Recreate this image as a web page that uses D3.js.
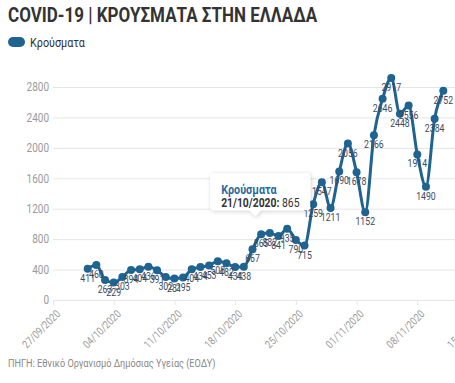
<!doctype html>
<html>
<head>
<meta charset="UTF-8">
<title>COVID-19 | Κρούσματα στην Ελλάδα</title>
<script src="https://d3js.org/d3.v7.min.js"></script>
<style>
    body { margin: 0; background: #fff; }
    svg text { font-family: Roboto, sans-serif; }
</style>
</head>
<body>
<script>
    // daily cases from 01/10/2020, one value per day
    var startDay = "01/10/2020";
    var cases = [411, 460, 263, 229, 303, 394, 404, 436, 391, 302, 281, 295, 404, 434, 453, 508, 482, 434, 438, 667,
        865, 882, 841, 935, 790, 715, 1259, 1547, 1211, 1690, 2056, 1678, 1152, 2166, 2646, 2917, 2448, 2556, 1914, 1490, 2384, 2752];
    var xTickLabels = ["27/09/2020", "04/10/2020", "11/10/2020", "18/10/2020", "25/10/2020", "01/11/2020", "08/11/2020", "15/11/2020"];
    var yTicks = [0, 400, 800, 1200, 1600, 2000, 2400, 2800];
    var tooltipIndex = 20;

    var w = 455, h = 383;
    var parse = d3.timeParse("%d/%m/%Y");
    var fmt = d3.timeFormat("%d/%m/%Y");
    var blue = "#1f6391";

    var data = cases.map(function (v, i) {
        return { date: d3.timeDay.offset(parse(startDay), i), value: v };
    });

    var svg = d3.select("body").append("svg").attr("width", w).attr("height", h);

    var x = d3.scaleTime()
        .domain([parse(xTickLabels[0]), parse(xTickLabels[xTickLabels.length - 1])])
        .range([53, 478]);
    var y = d3.scaleLinear().domain([0, 2800]).range([300, 87]);

    // title + legend
    svg.append("text").attr("x", 8).attr("y", 22).attr("data-k", 0.81)
        .attr("font-size", 21).attr("font-weight", "bold").attr("fill", "#333")
        .text("COVID-19 | ΚΡΟΥΣΜΑΤΑ ΣΤΗΝ ΕΛΛΑΔΑ");
    svg.append("rect").attr("x", 8).attr("y", 37).attr("width", 17).attr("height", 10).attr("rx", 5)
        .attr("fill", blue);
    svg.append("text").attr("x", 30).attr("y", 47).attr("font-size", 13).attr("fill", "#333")
        .text("Κρούσματα");

    // y grid + labels
    var yAxis = svg.append("g").attr("transform", "translate(53,0)")
        .call(d3.axisLeft(y).tickValues(yTicks).tickFormat(d3.format("d")).tickSize(-(w - 53)).tickPadding(4));
    yAxis.select(".domain").remove();
    yAxis.selectAll(".tick line").attr("stroke", "#e6e6e6");
    yAxis.selectAll(".tick text").attr("fill", "#999").attr("font-size", 12)
        .style("font-family", "Roboto, sans-serif");

    // x axis
    var xAxis = svg.append("g").attr("transform", "translate(0,300)")
        .call(d3.axisBottom(x).tickValues(xTickLabels.map(parse)).tickFormat(fmt).tickSize(5).tickPadding(2));
    xAxis.select(".domain").remove();
    xAxis.selectAll(".tick line").attr("stroke", "#e6e6e6");
    xAxis.selectAll(".tick text").attr("fill", "#999").attr("font-size", 11)
        .style("font-family", "Roboto, sans-serif")
        .attr("text-anchor", "end")
        .attr("transform", "translate(-2,5) rotate(-45)")
        .attr("dy", "0.6em");

    // line
    var line = d3.line()
        .x(function (d) { return x(d.date); })
        .y(function (d) { return y(d.value); })
        .curve(d3.curveMonotoneX);
    svg.append("path").datum(data).attr("d", line)
        .attr("fill", "none").attr("stroke", blue).attr("stroke-width", 3);

    svg.selectAll("circle").data(data).enter().append("circle")
        .attr("cx", function (d) { return x(d.date); })
        .attr("cy", function (d) { return y(d.value); })
        .attr("r", 4).attr("fill", blue);

    svg.selectAll(".lbl").data(data).enter().append("text").attr("class", "lbl")
        .attr("x", function (d) { return x(d.date); })
        .attr("y", function (d) { return y(d.value) + 13; })
        .attr("text-anchor", "middle").attr("font-size", 10.5).attr("fill", "#3b4a5e")
        .text(function (d) { return d.value; });

    // source
    svg.append("text").attr("x", 8).attr("y", 367).attr("font-size", 11).attr("fill", "#888")
        .text("ΠΗΓΗ: Εθνικό Οργανισμό Δημόσιας Υγείας (ΕΟΔΥ)");

    // tooltip
    var td = data[tooltipIndex];
    var tx = x(td.date), ty = y(td.value);
    var tip = svg.append("g").attr("transform", "translate(" + (tx - 51) + "," + (ty - 61) + ")");
    var defs = svg.append("defs");
    var f = defs.append("filter").attr("id", "sh").attr("x", -0.2).attr("y", -0.3).attr("width", 1.4).attr("height", 1.6);
    f.append("feDropShadow").attr("dx", 1).attr("dy", 1).attr("stdDeviation", 2).attr("flood-opacity", 0.2);
    tip.append("path")
        .attr("d", "M3,0 H97 Q100,0 100,3 V34 Q100,37 97,37 H51 L45,43 L39,37 H3 Q0,37 0,34 V3 Q0,0 3,0 Z")
        .attr("fill", "#fff").attr("filter", "url(#sh)");
    tip.append("text").attr("x", 11).attr("y", 21).attr("font-size", 13).attr("font-weight", "bold")
        .attr("fill", "#2b6a9b").text("Κρούσματα");
    var t2 = tip.append("text").attr("x", 11).attr("y", 34).attr("font-size", 12.5).attr("fill", "#333");
    t2.append("tspan").attr("font-weight", "bold").text(fmt(td.date) + ":");
    t2.append("tspan").text(" " + td.value);

    // the original uses a condensed face: squeeze every text horizontally,
    // re-anchoring by hand so middle/end texts stay where they belong
    svg.selectAll("text").each(function () {
        var el = d3.select(this);
        var k = +(el.attr("data-k") || 0.83);
        var len = this.getComputedTextLength() * k;
        var anchor = getComputedStyle(this).textAnchor;
        var x0 = +(this.getAttribute("x") || 0);
        if (anchor === "middle") x0 -= len / 2;
        else if (anchor === "end") x0 -= len;
        el.attr("text-anchor", "start").attr("x", x0)
            .attr("textLength", len).attr("lengthAdjust", "spacingAndGlyphs");
    });
</script>
</body>
</html>
